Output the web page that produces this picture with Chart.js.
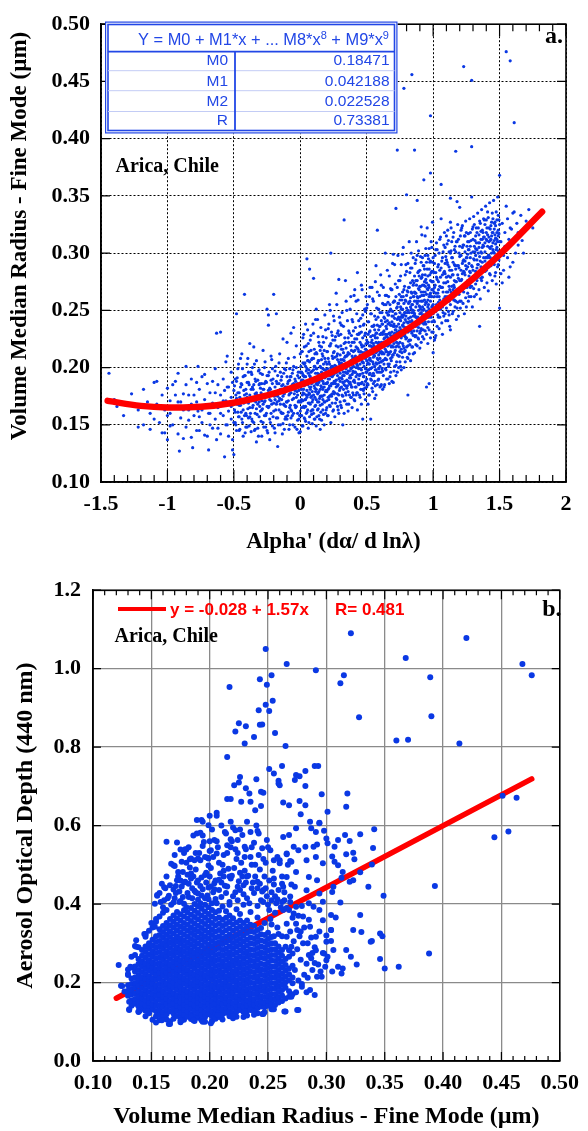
<!DOCTYPE html>
<html><head><meta charset="utf-8">
<script src="https://cdn.jsdelivr.net/npm/chart.js@4.4.1/dist/chart.umd.min.js"></script>
<style>
html,body{margin:0;padding:0;background:#fff;width:588px;height:1131px;overflow:hidden}
canvas{position:absolute;left:0}
#ca{top:0}#cb{top:565px}
</style></head><body>
<canvas id="ca" width="588" height="565"></canvas>
<canvas id="cb" width="588" height="566"></canvas>
<script>
// ---------- Panel a: Alpha' vs Volume Median Radius (columns: [alpha, [radius...]]) ----------
const alphaRadiusCols = [
[-1.44,[.195]],[-1.40,[.172]],[-1.38,[.166]],[-1.33,[.158]],[-1.27,[.177]],[-1.22,[.163,.148]],[-1.18,[.150,.181]],[-1.15,[.170]],
[-1.13,[.146,.160]],[-1.10,[.187,.155]],[-1.08,[.188,.168]],[-1.06,[.152]],[-1.04,[.176,.143]],[-1.02,[.143,.163]],[-1.00,[.137,.158,.182]],
[-0.98,[.160,.171,.149]],[-0.96,[.150,.185]],[-0.94,[.165,.188,.176]],[-0.92,[.142,.195,.170]],[-0.91,[.127]],[-0.90,[.170,.156]],
[-0.88,[.138,.177,.163]],[-0.86,[.148,.185,.201]],[-0.84,[.163,.176,.154]],[-0.82,[.139,.190,.168]],[-0.81,[.130]],[-0.80,[.158,.176]],
[-0.78,[.170,.145,.187]],[-0.77,[.201,.162]],[-0.76,[.145,.181,.157]],[-0.74,[.163,.152,.192]],[-0.72,[.194,.172,.141]],[-0.70,[.140,.186,.166]],
[-0.69,[.128,.160]],[-0.68,[.160,.178,.150]],[-0.66,[.147,.188,.169]],[-0.64,[.178,.155,.199]],[-0.63,[.230,.137]],[-0.62,[.185,.165,.147]],
[-0.60,[.231,.142,.176,.160]],[-0.58,[.190,.158,.171]],[-0.57,[.122,.180]],[-0.56,[.171,.205,.150]],[-0.55,[.210,.150,.183]],[-0.54,[.183,.162,.140]],
[-0.52,[.196,.174,.155,.166]],[-0.51,[.128,.137,.187]],[-0.50,[.124,.170,.152,.180]],
[-0.49,[.170,.152,.161,.190]],[-0.48,[.188,.247,.145,.173]],[-0.47,[.161,.199,.178]],[-0.46,[.145,.178,.167,.157]],[-0.45,[.167,.208,.183]],
[-0.44,[.155,.185,.212,.170]],[-0.43,[.172,.140,.192,.163]],[-0.42,[.193,.264,.158,.176]],[-0.41,[.160,.181,.170,.148]],[-0.40,[.148,.203,.174,.187]],
[-0.39,[.169,.187,.156,.196]],[-0.38,[.157,.176,.221,.165]],[-0.37,[.144,.196,.181,.171]],[-0.36,[.165,.183,.153,.200]],[-0.35,[.152,.171,.218,.185]],
[-0.34,[.190,.160,.177,.146]],[-0.33,[.178,.206,.135,.164]],[-0.32,[.147,.168,.189,.175]],[-0.31,[.185,.157,.198,.170]],[-0.30,[.174,.195,.162,.182]],
[-0.29,[.140,.163,.186,.171]],[-0.28,[.181,.152,.215,.168]],[-0.27,[.170,.200,.158,.186]],[-0.26,[.158,.188,.176,.148]],[-0.25,[.176,.145,.251,.193,.166]],
[-0.24,[.165,.193,.246,.237,.180]],[-0.23,[.155,.182,.137,.172]],[-0.22,[.171,.210,.160,.189]],[-0.21,[.149,.186,.177,.199]],[-0.20,[.162,.178,.264,.169]],
[-0.19,[.197,.143,.183,.172]],[-0.18,[.168,.188,.247,.156,.179]],[-0.17,[.156,.175,.131,.193]],[-0.16,[.204,.163,.186,.171]],[-0.15,[.181,.150,.196,.168]],
[-0.14,[.172,.192,.160,.184]],[-0.13,[.160,.185,.225,.175,.151]],[-0.12,[.146,.177,.199,.167]],[-0.11,[.166,.198,.183,.157]],[-0.10,[.155,.183,.222,.170,.192]],
[-0.09,[.171,.208,.161,.188]],[-0.08,[.150,.189,.177,.165,.199]],[-0.07,[.163,.178,.230,.192,.156]],[-0.06,[.195,.158,.172,.185]],[-0.05,[.173,.186,.235,.160,.201]],
[-0.04,[.148,.167,.190,.180]],[-0.03,[.182,.200,.219,.166,.174]],[-0.02,[.160,.176,.193,.186,.154]],[-0.01,[.191,.155,.143,.171,.180]],[0.00,[.170,.212,.144,.183,.162,.196]],
[0.01,[.158,.181,.196,.214,.172,.189,.165]],[0.02,[.171,.149,.189,.226,.178,.204,.193]],[0.03,[.165,.184,.203,.177,.156,.192,.218]],
[0.04,[.153,.192,.172,.238,.185,.166,.201]],[0.05,[.180,.161,.199,.210,.295,.174,.188]],[0.06,[.147,.176,.188,.221,.195,.169,.206]],
[0.07,[.169,.193,.157,.205,.286,.183,.177]],[0.08,[.183,.162,.215,.174,.196,.190,.228]],[0.09,[.151,.187,.197,.170,.208,.179,.163]],
[0.10,[.176,.160,.208,.230,.278,.189,.198]],[0.11,[.166,.190,.182,.155,.212,.201,.174]],[0.12,[.172,.199,.213,.149,.251,.186,.181]],
[0.13,[.185,.163,.177,.242,.195,.204,.170]],[0.14,[.158,.194,.170,.206,.187,.222,.179]],[0.15,[.181,.167,.201,.189,.146,.215,.175]],
[0.16,[.154,.175,.218,.196,.183,.207,.190]],[0.17,[.188,.163,.172,.227,.199,.181,.210]],[0.18,[.170,.198,.183,.150,.192,.215,.176]],
[0.19,[.160,.179,.205,.192,.186,.233,.198]],[0.20,[.186,.171,.214,.165,.196,.203,.179]],[0.21,[.196,.158,.181,.234,.190,.208,.174]],
[0.22,[.175,.203,.167,.190,.255,.184,.219]],[0.23,[.184,.152,.199,.221,.300,.193,.176]],[0.24,[.169,.192,.177,.210,.186,.201,.228]],
[0.25,[.200,.163,.186,.245,.194,.213,.179]],[0.26,[.178,.195,.157,.209,.188,.224,.202]],[0.27,[.189,.173,.219,.201,.265,.183,.196]],
[0.28,[.166,.207,.184,.193,.230,.177,.212]],[0.29,[.197,.176,.160,.228,.277,.190,.205]],[0.30,[.182,.211,.170,.195,.203,.188,.239]],
[0.31,[.191,.165,.204,.237,.198,.183,.216]],[0.32,[.175,.199,.187,.216,.150,.207,.193]],[0.33,[.206,.171,.193,.160,.329,.221,.185]],
[0.34,[.184,.222,.178,.201,.276,.196,.210]],[0.35,[.195,.168,.210,.250,.189,.203,.182]],[0.36,[.179,.203,.188,.162,.226,.197,.213]],
[0.37,[.212,.186,.197,.230,.176,.205,.191]],[0.38,[.174,.206,.191,.219,.262,.199,.185]],[0.39,[.200,.165,.183,.242,.210,.194,.222]],
[0.40,[.188,.214,.176,.205,.232,.196,.201]],[0.41,[.196,.171,.225,.209,.268,.187,.215]],[0.42,[.183,.207,.192,.258,.218,.200,.176]],
[0.43,[.202,.178,.217,.163,.283,.194,.229]],[0.44,[.190,.229,.199,.185,.208,.214,.241]],[0.45,[.211,.174,.194,.236,.203,.222,.186]],
[0.46,[.198,.186,.220,.168,.272,.207,.231]],[0.47,[.205,.181,.246,.213,.155,.195,.226]],[0.48,[.192,.219,.177,.201,.238,.210,.185]],
[0.49,[.208,.188,.230,.172,.216,.199,.249]],[0.50,[.196,.215,.183,.252,.206,.224,.190]],
[0.51,[.198,.222,.185,.240,.210,.229,.204,.168]],[0.52,[.213,.176,.231,.203,.262,.219,.194,.207]],[0.53,[.190,.219,.247,.206,.155,.227,.213,.199]],
[0.54,[.224,.200,.182,.212,.236,.193,.218,.270]],[0.55,[.209,.236,.195,.258,.221,.203,.186,.215]],[0.56,[.217,.188,.228,.201,.245,.210,.233,.173]],
[0.57,[.204,.242,.213,.176,.222,.198,.230,.289]],[0.58,[.226,.196,.218,.266,.320,.208,.237,.185]],[0.59,[.211,.233,.190,.222,.204,.251,.215,.199]],
[0.60,[.219,.201,.248,.208,.229,.183,.236,.213]],[0.61,[.230,.185,.214,.272,.222,.205,.241,.196]],[0.62,[.206,.238,.221,.197,.213,.256,.229,.181]],
[0.63,[.225,.212,.255,.183,.232,.203,.218,.244]],[0.64,[.216,.240,.199,.229,.208,.263,.222,.300]],[0.65,[.234,.207,.263,.221,.190,.227,.248,.214]],
[0.66,[.211,.246,.226,.190,.238,.219,.203,.257]],[0.67,[.239,.220,.203,.280,.230,.212,.249,.186]],[0.68,[.224,.251,.214,.196,.237,.228,.269,.208]],
[0.69,[.231,.209,.268,.240,.219,.188,.245,.226]],[0.70,[.218,.245,.228,.187,.236,.257,.211,.299]],[0.71,[.236,.213,.258,.290,.224,.201,.243,.230]],
[0.72,[.225,.202,.247,.233,.339,.218,.262,.193]],[0.73,[.242,.219,.270,.196,.390,.231,.253,.211]],[0.74,[.229,.256,.210,.238,.221,.276,.244,.200]],
[0.75,[.248,.222,.276,.205,.235,.259,.214,.242]],[0.76,[.233,.262,.216,.244,.226,.290,.251,.198]],[0.77,[.221,.251,.237,.299,.230,.209,.266,.244]],
[0.78,[.246,.228,.268,.200,.444,.239,.256,.217]],[0.79,[.235,.259,.215,.248,.227,.281,.242,.205]],[0.80,[.252,.226,.284,.240,.351,.218,.263,.234]],
[0.81,[.239,.266,.219,.208,.176,.250,.231,.291]],[0.82,[.257,.232,.248,.310,.240,.224,.270,.212]],[0.83,[.244,.274,.224,.261,.236,.253,.206,.287]],
[0.84,[.230,.255,.287,.241,.456,.265,.218,.248]],[0.85,[.262,.237,.212,.272,.250,.228,.296,.245]],[0.86,[.247,.280,.228,.258,.238,.266,.213,.390]],
[0.87,[.236,.265,.294,.220,.253,.244,.276,.228]],[0.88,[.256,.243,.276,.232,.346,.262,.219,.298]],[0.89,[.269,.225,.250,.302,.241,.284,.258,.235]],
[0.90,[.241,.285,.262,.217,.253,.271,.230,.247]],[0.91,[.258,.234,.278,.248,.323,.266,.222,.292]],[0.92,[.272,.246,.227,.296,.258,.239,.281,.253]],
[0.93,[.251,.289,.263,.238,.364,.272,.225,.246]],[0.94,[.266,.240,.281,.315,.255,.232,.271,.298]],[0.95,[.245,.274,.257,.229,.183,.264,.292,.249]],
[0.96,[.280,.253,.298,.235,.268,.244,.259,.221]],[0.97,[.262,.244,.286,.270,.186,.251,.304,.233]],[0.98,[.249,.293,.258,.226,.420,.370,.276,.265]],
[0.99,[.275,.262,.240,.305,.253,.284,.231,.268]],[1.00,[.255,.284,.231,.268,.296,.247,.275,.213]],
[1.01,[.262,.240,.291,.224,.270]],[1.02,[.249,.283,.265,.303,.228]],[1.03,[.277,.251,.303,.236,.262]],[1.04,[.268,.290,.244,.275,.257]],
[1.05,[.259,.285,.244,.312,.271]],[1.06,[.270,.360,.330,.253,.287]],[1.07,[.270,.296,.229,.253,.281]],[1.08,[.283,.260,.307,.245,.274]],
[1.09,[.282,.262,.305,.247,.291]],[1.10,[.266,.294,.252,.279,.315]],[1.11,[.266,.290,.241,.320,.275]],[1.12,[.288,.258,.301,.271,.246]],
[1.13,[.279,.255,.348,.327,.300,.233]],[1.14,[.271,.296,.262,.285,.310]],[1.15,[.292,.268,.314,.249,.281]],[1.16,[.276,.303,.259,.290,.270]],
[1.17,[.275,.301,.258,.286,.389]],[1.18,[.345,.289,.268,.310,.252]],[1.19,[.289,.265,.312,.245,.278]],[1.20,[.340,.297,.276,.258,.306]],
[1.21,[.298,.276,.258,.320,.285]],[1.22,[.324,.282,.305,.267,.291]],[1.23,[.284,.307,.266,.294,.463]],[1.24,[.293,.272,.315,.281,.301]],
[1.25,[.271,.296,.318,.253,.286]],[1.26,[.288,.310,.276,.299,.265]],[1.27,[.303,.280,.262,.310,.291]],[1.28,[.296,.318,.283,.270,.306]],
[1.29,[.289,.451,.393,.349,.271]],[1.30,[.323,.301,.285,.312,.276]],[1.31,[.306,.279,.325,.262,.294]],[1.32,[.298,.315,.284,.304,.273]],
[1.33,[.294,.318,.276,.303,.287]],[1.34,[.309,.290,.322,.281,.300]],[1.35,[.283,.309,.328,.236,.297]],[1.36,[.301,.319,.288,.312,.278]],
[1.37,[.312,.292,.279,.320,.305]],[1.38,[.296,.314,.330,.287,.306]],[1.39,[.301,.325,.284,.309,.293]],[1.40,[.329,.312,.296,.318,.285]],
[1.41,[.289,.316,.336,.296,.306]],[1.42,[.310,.298,.322,.288,.314]],[1.43,[.321,.304,.281,.311,.296]],[1.44,[.306,.327,.293,.315,.300]],
[1.45,[.309,.330,.292,.318,.303]],[1.46,[.300,.321,.311,.290,.326]],[1.47,[.297,.324,.313,.283,.308]],[1.48,[.329,.318,.305,.296,.312]],
[1.49,[.315,.333,.302,.290,.320]],[1.50,[.252,.368,.310,.325,.301]],
[1.51,[.310,.282]],[1.52,[.326,.274]],[1.53,[.298,.285]],[1.54,[.318,.306]],[1.55,[.305,.341,.476]],[1.56,[.330,.296]],[1.57,[.312,.279]],
[1.58,[.288,.468,.322]],[1.59,[.321]],[1.60,[.335,.292]],[1.61,[.336,.414,.310]],[1.62,[.314,.300]],[1.63,[.326]],[1.64,[.307,.318]],
[1.66,[.333]],[1.67,[.311]],[1.68,[.300]],[1.70,[.328]],[1.72,[.338]],[1.75,[.322]],[1.78,[.330]],[1.82,[.337]]
];
// further points of the same cloud, read between the columns above
const alphaRadiusCols2 = [
[-0.495,[.163,.184]],[-0.485,[.150,.176]],[-0.475,[.191,.168]],[-0.465,[.157,.203]],[-0.455,[.174,.146]],[-0.445,[.186,.161]],[-0.435,[.152,.199]],
[-0.425,[.169,.180]],[-0.415,[.143,.193]],[-0.405,[.177,.158]],[-0.395,[.164,.208]],[-0.385,[.149,.185]],[-0.375,[.172,.160]],[-0.365,[.194,.155]],
[-0.355,[.167,.181]],[-0.345,[.145,.203]],[-0.335,[.188,.170]],[-0.325,[.159,.176]],[-0.315,[.140,.197]],[-0.305,[.166,.186]],[-0.295,[.178,.153]],
[-0.285,[.194,.164]],[-0.275,[.148,.181]],[-0.265,[.171,.205]],[-0.255,[.160,.187]],[-0.245,[.143,.175]],[-0.235,[.196,.166]],[-0.225,[.181,.152]],
[-0.215,[.168,.207]],[-0.205,[.157,.190]],[-0.195,[.175,.147]],[-0.185,[.163,.201]],[-0.175,[.186,.170]],[-0.165,[.150,.180]],[-0.155,[.173,.212]],
[-0.145,[.161,.189]],[-0.135,[.142,.178]],[-0.125,[.195,.168]],[-0.115,[.183,.155]],[-0.105,[.170,.204]],[-0.095,[.158,.186]],[-0.085,[.176,.146]],
[-0.075,[.192,.167]],[-0.065,[.162,.181]],[-0.055,[.150,.198]],[-0.045,[.177,.209]],[-0.035,[.165,.188]],[-0.025,[.146,.179]],[-0.015,[.170,.196]],
[-0.005,[.158,.185]],
[0.005,[.158,.187,.201,.170]],[0.015,[.149,.176,.214,.195]],[0.025,[.166,.193,.181,.229]],[0.035,[.155,.204,.172,.188]],[0.045,[.176,.160,.219,.197]],
[0.055,[.163,.185,.206,.233]],[0.065,[.152,.198,.178,.214]],[0.075,[.181,.168,.224,.192]],[0.085,[.159,.207,.186,.175]],[0.095,[.172,.190,.238,.163]],
[0.105,[.184,.155,.201,.216]],[0.115,[.167,.195,.179,.242]],[0.125,[.157,.212,.188,.199]],[0.135,[.178,.164,.227,.206]],[0.145,[.190,.173,.155,.219]],
[0.155,[.161,.200,.235,.184]],[0.165,[.175,.193,.168,.212]],[0.175,[.186,.159,.222,.203]],[0.185,[.170,.208,.191,.246]],[0.195,[.196,.163,.180,.226]],
[0.205,[.158,.214,.199,.187]],[0.215,[.182,.172,.238,.205]],[0.225,[.193,.166,.219,.250]],[0.235,[.175,.201,.186,.231]],[0.245,[.162,.224,.208,.193]],
[0.255,[.188,.177,.241,.214]],[0.265,[.199,.169,.227,.186]],[0.275,[.172,.210,.196,.255]],[0.285,[.185,.163,.232,.218]],[0.295,[.203,.180,.191,.244]],
[0.305,[.167,.219,.207,.229]],[0.315,[.190,.176,.248,.200]],[0.325,[.181,.213,.196,.236]],[0.335,[.209,.171,.226,.188]],[0.345,[.176,.199,.258,.217]],
[0.355,[.195,.184,.211,.241]],[0.365,[.168,.222,.202,.232]],[0.375,[.205,.187,.251,.193]],[0.385,[.183,.215,.174,.228]],[0.395,[.197,.208,.240,.178]],
[0.405,[.189,.172,.222,.263]],[0.415,[.210,.196,.235,.183]],[0.425,[.178,.225,.203,.247]],[0.435,[.200,.186,.259,.216]],[0.445,[.193,.230,.176,.209]],
[0.455,[.214,.181,.243,.199]],[0.465,[.187,.218,.205,.268]],[0.475,[.204,.192,.237,.180]],[0.485,[.182,.228,.213,.251]],[0.495,[.209,.196,.262,.221]],
[0.505,[.186,.221,.203,.255]],[0.515,[.213,.176,.240,.198]],[0.525,[.195,.232,.208,.270]],[0.535,[.222,.189,.215,.247]],[0.545,[.179,.205,.260,.228]],
[0.555,[.211,.237,.193,.219]],[0.565,[.198,.226,.275,.184]],[0.575,[.230,.203,.214,.252]],[0.585,[.189,.244,.221,.207]],[0.595,[.217,.196,.263,.236]],
[0.605,[.205,.229,.184,.281]],[0.615,[.238,.212,.248,.199]],[0.625,[.193,.222,.270,.231]],[0.635,[.226,.207,.243,.185]],[0.645,[.214,.255,.198,.236]],
[0.655,[.241,.219,.229,.285]],[0.665,[.201,.246,.213,.262]],[0.675,[.230,.192,.255,.224]],[0.685,[.218,.268,.237,.206]],[0.695,[.249,.211,.226,.291]],
[0.705,[.197,.238,.258,.221]],[0.715,[.233,.215,.273,.247]],[0.725,[.222,.252,.205,.236]],[0.735,[.256,.229,.243,.298]],[0.745,[.210,.264,.232,.218]],
[0.755,[.241,.201,.280,.253]],[0.765,[.228,.259,.246,.213]],[0.775,[.262,.236,.219,.305]],[0.785,[.214,.248,.271,.229]],[0.795,[.245,.225,.290,.258]],
[0.805,[.235,.267,.209,.248]],[0.815,[.270,.243,.256,.223]],[0.825,[.220,.258,.283,.240]],[0.835,[.251,.232,.300,.266]],[0.845,[.239,.276,.218,.255]],
[0.855,[.274,.248,.262,.232]],[0.865,[.227,.265,.291,.245]],[0.875,[.258,.237,.310,.272]],[0.885,[.244,.283,.226,.261]],[0.895,[.280,.254,.268,.238]],
[0.905,[.232,.271,.297,.251]],[0.915,[.263,.243,.316,.279]],[0.925,[.250,.289,.233,.266]],[0.935,[.286,.259,.275,.243]],[0.945,[.238,.277,.304,.257]],
[0.955,[.269,.249,.322,.286]],[0.965,[.255,.295,.240,.272]],[0.975,[.292,.264,.281,.248]],[0.985,[.244,.283,.310,.262]],[0.995,[.275,.254,.327,.292]],
[1.005,[.241,.283,.266]],[1.015,[.272,.226,.298]],[1.025,[.255,.309,.279]],[1.035,[.288,.246,.265]],[1.045,[.262,.300,.234]],[1.055,[.279,.251,.314]],
[1.065,[.239,.293,.270]],[1.075,[.301,.266,.248]],[1.085,[.257,.284,.318]],[1.095,[.274,.241,.297]],[1.105,[.292,.262,.308]],[1.115,[.249,.311,.280]],
[1.125,[.285,.268,.236]],[1.135,[.266,.302,.322]],[1.145,[.296,.247,.281]],[1.155,[.272,.318,.259]],[1.165,[.253,.289,.306]],[1.175,[.310,.275,.242]],
[1.185,[.281,.257,.325]],[1.195,[.264,.300,.287]],[1.205,[.298,.252,.315]],[1.215,[.277,.322,.268]],[1.225,[.256,.293,.307]],[1.235,[.315,.283,.247]],
[1.245,[.289,.261,.328]],[1.255,[.270,.306,.296]],[1.265,[.303,.258,.317]],[1.275,[.284,.330,.272]],[1.285,[.262,.300,.311]],[1.295,[.321,.288,.253]],
[1.305,[.295,.269,.332]],[1.315,[.278,.311,.301]],[1.325,[.309,.264,.322]],[1.335,[.290,.335,.279]],[1.345,[.268,.305,.316]],[1.355,[.326,.293,.260]],
[1.365,[.300,.276,.338]],[1.375,[.284,.318,.307]],[1.385,[.314,.270,.329]],[1.395,[.296,.341,.285]],[1.405,[.274,.311,.322]],[1.415,[.331,.298,.267]],
[1.425,[.305,.282,.344]],[1.435,[.289,.324,.312]],[1.445,[.318,.276,.335]],[1.455,[.301,.346,.291]],[1.465,[.280,.316,.327]],[1.475,[.336,.303,.273]],
[1.485,[.310,.288,.349]],[1.495,[.294,.329,.317]]
];
// polynomial fit curve
const fitAlpha  = [-1.45,-1.2,-1.0,-0.75,-0.5,-0.25,0,0.25,0.5,0.75,1.0,1.25,1.5,1.82];
const fitRadius = [.1709,.1665,.1651,.1657,.1693,.1756,.1847,.1967,.2114,.2290,.2494,.2727,.2987,.3361];
const alphaTickLabels  = ['-1.5','-1','-0.5','0','0.5','1','1.5','2'];
const radiusTickLabels = ['0.10','0.15','0.20','0.25','0.30','0.35','0.40','0.45','0.50'];
const fitParamNames  = ['M0','M1','M2','R'];
const fitParamValues = ['0.18471','0.042188','0.022528','0.73381'];

// ---------- Panel b: Volume Median Radius vs AOD(440) ----------
// dense core of the cloud, columns [radius, [aod...]]
const vmrAodCoreCols = [
[.130,[.166,.179,.193,.219,.233]],
[.133,[.141,.155,.170,.182,.196,.210,.238,.266]],
[.136,[.146,.158,.172,.187,.199,.213,.228,.241,.270]],
[.139,[.125,.139,.151,.165,.178,.192,.206,.218,.232,.247,.260,.290]],
[.142,[.133,.147,.160,.173,.186,.200,.213,.227,.241,.254,.268,.283]],
[.145,[.114,.128,.141,.154,.168,.181,.195,.209,.222,.236,.249,.263,.278,.292,.322]],
[.148,[.122,.136,.149,.162,.176,.190,.203,.216,.230,.244,.257,.271,.286,.300,.332]],
[.151,[.105,.131,.144,.158,.171,.184,.198,.211,.225,.239,.252,.266,.280,.294,.309,.340]],
[.154,[.114,.127,.140,.153,.166,.180,.193,.207,.220,.233,.247,.261,.275,.289,.303,.318,.362]],
[.157,[.104,.117,.130,.143,.157,.170,.183,.196,.210,.224,.237,.250,.264,.278,.292,.306,.321,.336,.368]],
[.160,[.112,.125,.138,.151,.164,.178,.191,.204,.218,.231,.245,.258,.272,.286,.300,.314,.329,.344,.378]],
[.163,[.106,.119,.132,.145,.158,.171,.185,.198,.212,.225,.239,.252,.266,.280,.294,.308,.322,.337,.352,.385]],
[.166,[.101,.127,.140,.153,.166,.179,.193,.206,.219,.233,.246,.260,.274,.288,.302,.316,.331,.346,.362]],
[.169,[.108,.121,.134,.147,.160,.173,.187,.200,.213,.227,.240,.254,.268,.282,.296,.310,.325,.340,.355,.371,.404]],
[.172,[.115,.128,.141,.154,.167,.181,.194,.207,.221,.234,.248,.262,.276,.290,.304,.318,.333,.348,.364,.380]],
[.175,[.099,.111,.124,.137,.150,.163,.176,.189,.203,.216,.230,.243,.257,.271,.285,.299,.313,.328,.343,.358,.374,.408]],
[.178,[.105,.118,.131,.144,.157,.170,.183,.197,.210,.224,.237,.251,.265,.279,.293,.307,.322,.337,.352,.368,.384,.401]],
[.181,[.113,.126,.139,.152,.165,.178,.192,.205,.219,.232,.246,.260,.274,.288,.302,.317,.332,.347,.363,.379,.428]],
[.184,[.107,.120,.133,.146,.159,.172,.186,.199,.213,.226,.240,.254,.268,.282,.296,.311,.326,.341,.357,.373,.390]],
[.187,[.102,.115,.128,.141,.154,.167,.181,.194,.208,.221,.235,.249,.263,.277,.291,.306,.321,.336,.351,.367,.383,.400,.434]],
[.190,[.110,.123,.136,.149,.162,.175,.189,.202,.216,.229,.243,.257,.271,.285,.300,.315,.330,.345,.361,.377,.394,.411]],
[.193,[.104,.117,.130,.143,.156,.169,.183,.196,.210,.223,.237,.251,.265,.279,.294,.309,.324,.339,.355,.371,.388,.422]],
[.196,[.100,.112,.125,.138,.151,.164,.178,.191,.205,.218,.232,.246,.260,.274,.288,.303,.318,.333,.349,.365,.381,.398,.415]],
[.199,[.119,.132,.145,.158,.171,.185,.198,.212,.226,.240,.254,.268,.282,.297,.312,.327,.343,.359,.375,.392,.442]],
[.202,[.101,.114,.127,.140,.153,.166,.180,.193,.207,.220,.234,.248,.262,.276,.291,.306,.321,.336,.352,.368,.385,.402]],
[.205,[.108,.121,.134,.147,.160,.173,.187,.200,.214,.228,.242,.256,.270,.285,.300,.315,.330,.346,.362,.379,.413]],
[.208,[.112,.124,.137,.150,.163,.177,.190,.204,.217,.231,.245,.259,.273,.288,.303,.318,.334,.350,.366,.383]],
[.211,[.106,.119,.132,.145,.158,.171,.185,.198,.212,.226,.240,.254,.268,.283,.298,.313,.328,.344,.360,.394]],
[.214,[.123,.136,.149,.162,.176,.189,.203,.216,.230,.244,.258,.273,.287,.302,.317,.333,.349,.365,.382]],
[.217,[.114,.127,.140,.153,.166,.180,.193,.207,.221,.235,.249,.263,.277,.292,.307,.322,.338,.354,.371,.405]],
[.220,[.109,.122,.135,.148,.161,.175,.188,.202,.215,.229,.243,.257,.272,.286,.301,.316,.332,.348,.364]],
[.223,[.113,.126,.139,.152,.165,.179,.192,.206,.220,.234,.248,.262,.276,.291,.306,.321,.337,.353,.387]],
[.226,[.130,.143,.156,.169,.183,.196,.210,.224,.238,.252,.266,.281,.296,.311,.326,.342,.358,.375]],
[.229,[.112,.125,.138,.151,.164,.178,.191,.205,.219,.233,.247,.261,.275,.290,.305,.320,.336,.352,.398]],
[.232,[.116,.129,.142,.155,.169,.182,.196,.209,.223,.237,.251,.266,.280,.295,.310,.326,.342,.358]],
[.235,[.133,.146,.159,.173,.186,.200,.214,.228,.242,.256,.270,.285,.300,.315,.331,.347,.380]],
[.238,[.118,.131,.144,.157,.171,.184,.198,.212,.226,.240,.254,.268,.283,.298,.313,.329,.345]],
[.241,[.122,.135,.148,.161,.175,.188,.202,.216,.230,.244,.258,.273,.288,.303,.318,.334,.366]],
[.244,[.139,.152,.165,.179,.192,.206,.220,.234,.248,.263,.277,.292,.307,.323,.339]],
[.247,[.124,.137,.150,.163,.177,.190,.204,.218,.232,.246,.261,.275,.290,.305,.321,.352]],
[.250,[.141,.154,.167,.181,.195,.209,.223,.237,.251,.266,.281,.296,.311,.327]],
[.253,[.132,.145,.158,.171,.185,.199,.213,.227,.241,.256,.270,.285,.300,.316,.348]],
[.256,[.143,.156,.170,.184,.198,.212,.226,.240,.255,.270,.285,.300]],
[.259,[.149,.162,.176,.190,.204,.218,.232,.247,.262,.277,.292,.324]],
[.262,[.153,.167,.181,.195,.209,.223,.238,.253,.268,.283]],
[.265,[.159,.187,.201,.215,.230,.245,.260,.291]],
[.268,[.164,.178,.206,.221,.236,.266,.282]],
[.271,[.170,.198,.213,.243,.274]]
];
// scattered points around the core
const vmrAodScatter = [
[.248,1.050],[.266,1.012],[.217,.953],[.243,.973],[.253,.983],[.249,.959],[.248,.908],[.251,.892],[.242,.894],[.254,.918],
[.225,.861],[.222,.840],[.231,.853],[.243,.857],[.245,.858],[.256,.836],[.230,.809],[.238,.826],[.265,.803],[.215,.775],
[.291,.996],[.321,1.090],[.315,.983],[.312,.963],[.328,.876],[.368,1.027],[.389,.978],[.390,.879],[.360,.817],[.370,.819],
[.414,.809],[.420,1.078],[.468,1.012],[.476,.983],[.451,.676],[.463,.671],[.456,.585],[.444,.570],[.393,.446],[.349,.421],
[.318,.682],[.317,.648],[.301,.635],[.341,.591],[.329,.578],[.340,.543],[.339,.501],[.329,.481],[.336,.444],[.312,.404],
[.329,.372],[.323,.334],[.330,.329],[.346,.325],[.348,.318],[.339,.306],[.316,.576],[.320,.561],[.310,.563],[.307,.546],
[.317,.527],[.323,.531],[.324,.514],[.305,.521],[.307,.508],[.310,.499],[.314,.482],[.313,.467],[.320,.457],[.323,.461],
[.306,.444],[.305,.431],[.304,.372],[.308,.366],[.304,.334],[.304,.306],[.300,.567],[.301,.555],[.294,.606],[.298,.587],
[.291,.584],[.292,.552],[.296,.680],[.290,.752],[.293,.752],[.282,.739],[.282,.701],[.262,.752],[.273,.716],[.277,.726],
[.274,.729],[.251,.744],[.255,.733],[.259,.714],[.260,.703],[.226,.724],[.221,.703],[.225,.710],[.240,.718],[.215,.668],
[.218,.668],[.231,.695],[.234,.682],[.235,.661],[.244,.686],[.246,.684],[.239,.639],[.244,.650],[.227,.661],[.206,.633],
[.193,.614],[.200,.625],[.199,.601],[.189,.580],[.192,.582],[.189,.614],[.163,.559],[.172,.557],[.180,.539],[.170,.497],
[.161,.443],[.155,.421],[.150,.352],[.145,.324],[.136,.293],
[.122,.245],[.124,.192],[.127,.177],[.131,.151],[.131,.132],[.140,.128],[.154,.098],[.165,.094],[.176,.104],[.184,.113],
[.201,.096],[.220,.115],[.235,.130],[.245,.120],[.254,.132],[.265,.126],[.275,.130],[.286,.181],[.290,.168],[.283,.175],
[.292,.215],[.295,.228],[.300,.257],[.306,.283],[.305,.228],[.314,.236],[.317,.283],[.321,.266],[.326,.246],[.338,.304],
[.346,.260],[.350,.236],[.362,.240],[.388,.274],[.313,.223],
[.125,.191],[.130,.222],[.132,.240],[.137,.291],[.137,.308],[.144,.324],[.145,.317],[.154,.355],[.153,.342],[.155,.423],
[.169,.499],[.172,.461],[.177,.482],[.183,.514],[.192,.512],[.199,.516],
[.131,.130],[.139,.126],[.147,.126],[.159,.104],[.166,.094],[.175,.104],[.186,.104],[.194,.100],[.207,.117],[.230,.126],
[.238,.126],[.246,.120],[.255,.132],[.264,.126],[.276,.130],
[.270,.164],[.279,.189],[.287,.262],[.296,.215],[.298,.274],[.304,.334],[.301,.266],[.310,.240],
[.274,.175],[.276,.205],[.273,.232],[.278,.258],[.275,.285],[.281,.220],[.283,.248],[.279,.196],[.285,.270],[.288,.232],
[.272,.305],[.277,.318],[.284,.212],[.290,.290],[.269,.330],[.266,.350],[.262,.318],[.258,.340],[.255,.318],[.252,.362],
[.175,.539],[.184,.516],[.190,.516],[.198,.518],[.201,.537],[.204,.563],[.206,.529],[.213,.584],[.215,.550],[.218,.565],
[.222,.588],[.224,.563],[.228,.576],[.230,.546],[.235,.584],[.238,.556],[.241,.586],[.245,.542],[.249,.563],[.252,.537],
[.255,.512],[.260,.504],[.263,.571],[.266,.527],[.269,.510],[.272,.546],
[.162,.440],[.173,.470],[.179,.457],[.184,.478],[.190,.427],[.196,.474],[.204,.453],[.208,.436],[.218,.465],
[.224,.444],[.232,.470],[.241,.457],[.246,.436],[.255,.465],[.263,.444],[.269,.419],
[.259,.707],[.263,.659],[.268,.652],[.277,.663],[.278,.629],[.282,.652],[.286,.610],[.294,.607],[.287,.593],[.274,.593],
[.268,.576],[.282,.546],[.289,.546],[.276,.537],[.266,.529],[.260,.512],[.270,.508],[.283,.512],[.291,.520],[.297,.504],
[.274,.482],[.266,.469],[.285,.469],[.292,.461],[.262,.452],[.273,.444],[.283,.435],[.294,.427],[.297,.406],[.285,.402],
[.274,.393],[.264,.410],
[.263,.385],[.272,.376],[.280,.368],[.289,.393],[.294,.385],[.297,.359],[.286,.342],[.275,.334],[.266,.317],[.291,.317],
[.300,.304],[.280,.300],[.270,.291],
[.153,.401],[.157,.428],[.161,.410],[.159,.452],[.165,.421],[.163,.470],[.169,.437],[.167,.503],[.171,.446],[.173,.482],
[.177,.418],[.175,.460],[.178,.530],[.181,.475],[.179,.540],[.185,.440],[.183,.493],[.186,.575],[.189,.455],[.187,.512],
[.193,.468],[.191,.530],[.194,.610],[.197,.480],[.195,.558],[.201,.445],[.199,.498],[.202,.590],[.205,.460],[.203,.520],
[.206,.625],[.209,.478],[.207,.545],[.213,.447],[.211,.500],[.214,.580],[.217,.470],[.215,.530],[.218,.610],[.221,.492],
[.219,.560],[.225,.458],[.223,.515],[.226,.590],[.229,.448],[.227,.505],[.233,.472],[.231,.540],[.237,.455],[.235,.520],
[.241,.440],[.239,.500],[.242,.580],[.245,.432],[.243,.488],[.249,.420],[.247,.470],[.250,.545],[.253,.410],[.251,.460],
[.257,.402],[.255,.450],[.258,.520],[.261,.392],[.259,.436],[.266,.390],[.264,.430],[.267,.500],[.271,.365],[.269,.405],
[.276,.370],[.281,.340],[.279,.395],[.287,.315],[.285,.360],[.293,.246],[.291,.282],[.294,.330],[.299,.240],[.297,.275],
[.300,.320],
[.158,.405],[.166,.448],[.170,.415],[.174,.432],[.182,.418],[.188,.430],[.192,.446],[.198,.422],[.204,.438],[.210,.455],
[.214,.428],[.220,.420],[.226,.436],[.232,.415],[.238,.428],[.244,.410],[.250,.398],[.256,.420],[.262,.405],[.268,.385],
[.274,.350],[.278,.330],[.284,.300],[.288,.275],[.290,.250],[.180,.505],[.186,.470],[.196,.520],[.208,.505],[.216,.490],
[.222,.540],[.230,.485],[.236,.500],[.246,.515],[.254,.485],[.262,.470],[.270,.450],[.178,.455],[.184,.465],[.200,.470],
[.212,.470],[.228,.470],
[.160,.392],[.164,.415],[.167,.398],[.171,.428],[.174,.405],[.176,.445],[.180,.392],[.182,.452],[.185,.415],[.188,.488],
[.190,.460],[.192,.402],[.194,.438],[.197,.455],[.199,.412],[.201,.492],[.203,.430],[.206,.402],[.208,.462],[.210,.418],
[.212,.485],[.215,.445],[.217,.398],[.219,.472],[.222,.430],[.224,.410],[.226,.480],[.229,.425],[.231,.455],[.234,.402],
[.236,.440],[.239,.470],[.241,.395],[.243,.452],[.246,.405],[.248,.440],[.251,.385],[.253,.430],[.256,.378],[.258,.412],
[.170,.525],[.176,.508],[.182,.545],[.188,.530],[.194,.548],[.200,.535],[.206,.560],[.212,.525],[.218,.545],[.224,.530],
[.230,.520],[.236,.545],[.242,.525],[.248,.505],[.194,.575],[.210,.600],[.220,.595],[.232,.610],[.240,.600],[.200,.560]
];
const vmrFit = [0.120, 0.476];
const aodFit = [0.160, 0.719];
const vmrTickLabels = ['0.10','0.15','0.20','0.25','0.30','0.35','0.40','0.45','0.50'];
const aodTickLabels = ['0.0','0.2','0.4','0.6','0.8','1.0','1.2'];

// ---------- helpers ----------
const SERIF = "'Liberation Serif','Times New Roman',serif";
const SANS = "'Liberation Sans',Arial,sans-serif";
const BLUE = '#0a38e4';
const labelFor = (arr) => (v) => { const t = arr.find(s => Math.abs(parseFloat(s) - v) < 1e-6); return t === undefined ? '' : t; };
const fromCols = (cols) => cols.flatMap(([x, ys]) => ys.map(y => ({x, y})));
const fromPairs = (pairs) => pairs.map(([x, y]) => ({x, y}));
const zip = (xs, ys) => xs.map((x, i) => ({x, y: ys[i]}));

function text(ctx, s, x, y, font, color, align, base) {
  ctx.font = font; ctx.fillStyle = color;
  ctx.textAlign = align || 'left'; ctx.textBaseline = base || 'alphabetic';
  ctx.fillText(s, x, y);
}
function drawFrame(chart, o) {
  const {ctx, chartArea: a, scales: {x, y}} = chart;
  ctx.save();
  ctx.strokeStyle = '#000';
  ctx.lineWidth = 1.2;
  ctx.beginPath();
  const nx = Math.round((x.max - x.min) / o.xMinor);
  const per = Math.round(o.xMajor / o.xMinor);
  for (let i = 0; i <= nx; i++) {
    const px = x.getPixelForValue(x.min + i * o.xMinor);
    const len = (i % per === 0) ? o.majorLen : o.minorLen;
    ctx.moveTo(px, a.bottom); ctx.lineTo(px, a.bottom - len);
    ctx.moveTo(px, a.top); ctx.lineTo(px, a.top + len);
  }
  const ny = Math.round((y.max - y.min) / o.yStep);
  for (let i = 0; i <= ny; i++) {
    const py = y.getPixelForValue(y.min + i * o.yStep);
    ctx.moveTo(a.left, py); ctx.lineTo(a.left + o.yLen, py);
    ctx.moveTo(a.right, py); ctx.lineTo(a.right - o.yLen, py);
  }
  ctx.stroke();
  ctx.lineWidth = o.frameWidth;
  ctx.strokeRect(a.left, a.top, a.right - a.left, a.bottom - a.top);
  ctx.restore();
}

function drawTable(ctx) {
  const x0 = 105, y0 = 21.5, x1 = 397.5, y1 = 133.5, col = '#2247e6';
  ctx.save();
  ctx.fillStyle = '#fff'; ctx.fillRect(x0, y0, x1 - x0, y1 - y0);
  ctx.strokeStyle = col; ctx.lineWidth = 1.2;
  ctx.strokeRect(x0 + 0.6, y0 + 0.6, x1 - x0 - 1.2, y1 - y0 - 1.2);
  ctx.lineWidth = 1.6;
  ctx.strokeRect(x0 + 3, y0 + 3, x1 - x0 - 6, y1 - y0 - 6);
  ctx.strokeStyle = '#c3ccf5'; ctx.lineWidth = 1;
  [70.7, 90.7, 111.5].forEach(yy => { ctx.beginPath(); ctx.moveTo(x0 + 3, yy); ctx.lineTo(x1 - 3, yy); ctx.stroke(); });
  ctx.strokeStyle = col; ctx.lineWidth = 1.8;
  ctx.beginPath(); ctx.moveTo(x0 + 3, 51.7); ctx.lineTo(x1 - 3, 51.7);
  ctx.moveTo(235, 51.7); ctx.lineTo(235, y1 - 3); ctx.stroke();
  const f = '15.5px ' + SANS, fh = '16.4px ' + SANS, fs = '11px ' + SANS;
  const parts = [['Y = M0 + M1*x + ... M8*x', fh, 0], ['8', fs, -6], [' + M9*x', fh, 0], ['9', fs, -6]];
  let w = 0;
  parts.forEach(p => { ctx.font = p[1]; w += ctx.measureText(p[0]).width; });
  let cx = 263.5 - w / 2;
  parts.forEach(p => { text(ctx, p[0], cx, 45 + p[2], p[1], col); ctx.font = p[1]; cx += ctx.measureText(p[0]).width; });
  const bases = [65, 85.5, 105.5, 125];
  fitParamNames.forEach((n, i) => {
    text(ctx, n, 228, bases[i], f, col, 'right');
    text(ctx, fitParamValues[i], 389.5, bases[i], f, col, 'right');
  });
  ctx.restore();
}

const panelA = {
  id: 'panelA',
  afterDraw(chart) {
    const ctx = chart.ctx;
    drawFrame(chart, {xMinor: 0.1, xMajor: 0.5, minorLen: 7, majorLen: 12, yStep: 0.05, yLen: 9, frameWidth: 1.6});
    drawTable(ctx);
    ctx.save();
    text(ctx, 'a.', 563, 43, 'bold 24px ' + SERIF, '#000', 'right');
    text(ctx, 'Arica, Chile', 115.5, 172, 'bold 20px ' + SERIF, '#000');
    ctx.translate(20, 236); ctx.rotate(-Math.PI / 2);
    text(ctx, 'Volume Median Radius - Fine Mode (µm)', 0, 0, 'bold 23px ' + SERIF, '#000', 'center', 'middle');
    ctx.restore();
  }
};
const panelB = {
  id: 'panelB',
  afterDraw(chart) {
    const ctx = chart.ctx;
    drawFrame(chart, {xMinor: 0.01, xMajor: 0.05, minorLen: 5, majorLen: 9, yStep: 0.2, yLen: 8, frameWidth: 1.5});
    ctx.save();
    ctx.strokeStyle = '#ff0000'; ctx.lineWidth = 4; ctx.lineCap = 'butt';
    ctx.beginPath(); ctx.moveTo(118, 44); ctx.lineTo(166, 44); ctx.stroke();
    text(ctx, 'y = -0.028 + 1.57x', 170, 49.5, 'bold 17px ' + SANS, '#ff0000');
    text(ctx, 'R= 0.481', 335, 49.5, 'bold 17px ' + SANS, '#ff0000');
    text(ctx, 'Arica, Chile', 114.5, 77, 'bold 20px ' + SERIF, '#000');
    text(ctx, 'b.', 561.5, 51, 'bold 24px ' + SERIF, '#000', 'right');
    ctx.restore();
  }
};

Chart.defaults.font.family = SERIF;
Chart.defaults.color = '#000';
const tickFont = {family: SERIF, size: 22, weight: 'bold'};

new Chart(document.getElementById('ca'), {
  type: 'scatter',
  data: {
    datasets: [
      {data: zip(fitAlpha, fitRadius), showLine: true, borderColor: '#ff0000', borderWidth: 6.5,
       borderCapStyle: 'round', tension: 0.4, pointRadius: 0, order: 0},
      {data: fromCols(alphaRadiusCols).concat(fromCols(alphaRadiusCols2)), backgroundColor: BLUE, borderColor: BLUE,
       borderWidth: 0, pointRadius: 1.6, order: 1}
    ]
  },
  options: {
    responsive: false, animation: false, devicePixelRatio: 1, events: [],
    layout: {padding: {left: 0, top: 18, right: 22, bottom: 0}},
    plugins: {legend: {display: false}, tooltip: {enabled: false}},
    scales: {
      x: {type: 'linear', min: -1.5, max: 2,
          ticks: {stepSize: 0.5, font: tickFont, color: '#000', padding: 9, maxRotation: 0, autoSkip: false,
                  callback: labelFor(alphaTickLabels)},
          grid: {color: '#000', lineWidth: 1, drawTicks: false},
          border: {color: '#000', width: 1.5, dash: [2, 2]},
          title: {display: true, text: "Alpha' (dα/ d lnλ)", font: {family: SERIF, size: 23, weight: 'bold'},
                  color: '#000', padding: {top: 0, bottom: 9}},
          afterFit: s => { s.height = 83; }},
      y: {type: 'linear', min: 0.1, max: 0.5,
          ticks: {stepSize: 0.05, font: tickFont, color: '#000', padding: 11, autoSkip: false,
                  callback: labelFor(radiusTickLabels)},
          grid: {color: '#000', lineWidth: 1, drawTicks: false},
          border: {color: '#000', width: 1.5, dash: [2, 2]},
          afterFit: s => { s.width = 101; }}
    }
  },
  plugins: [panelA]
});

new Chart(document.getElementById('cb'), {
  type: 'scatter',
  data: {
    datasets: [
      {data: zip(vmrFit, aodFit), showLine: true, borderColor: '#ff0000', borderWidth: 5.5,
       borderCapStyle: 'round', pointRadius: 0, order: 2},
      {data: fromCols(vmrAodCoreCols).concat(fromPairs(vmrAodScatter)), backgroundColor: BLUE, borderColor: BLUE,
       borderWidth: 0, pointRadius: 3, order: 1}
    ]
  },
  options: {
    responsive: false, animation: false, devicePixelRatio: 1, events: [],
    layout: {padding: {left: 0, top: 24, right: 21, bottom: 0}},
    plugins: {legend: {display: false}, tooltip: {enabled: false}},
    scales: {
      x: {type: 'linear', min: 0.1, max: 0.5,
          ticks: {stepSize: 0.05, font: tickFont, color: '#000', padding: 9, maxRotation: 0, autoSkip: false,
                  callback: labelFor(vmrTickLabels)},
          grid: {color: '#8a8a8a', lineWidth: 1.3, drawTicks: false},
          border: {color: '#000', width: 1.5},
          title: {display: true, text: 'Volume Median Radius - Fine Mode (µm)', font: {family: SERIF, size: 24, weight: 'bold'},
                  color: '#000', padding: {top: 0, bottom: 0}},
          afterFit: s => { s.height = 70; }},
      y: {type: 'linear', min: 0, max: 1.2,
          ticks: {stepSize: 0.2, font: tickFont, color: '#000', padding: 12, autoSkip: false,
                  callback: labelFor(aodTickLabels)},
          grid: {color: '#8a8a8a', lineWidth: 1.3, drawTicks: false},
          border: {color: '#000', width: 1.5},
          title: {display: true, text: 'Aerosol Optical Depth (440 nm)', font: {family: SERIF, size: 24, weight: 'bold'},
                  color: '#000', padding: {top: 11, bottom: 0}},
          afterFit: s => { s.width = 93; }}
    }
  },
  plugins: [panelB]
});
</script>
</body></html>
